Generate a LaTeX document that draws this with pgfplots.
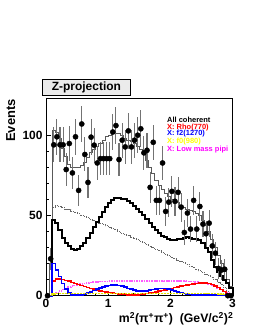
\documentclass[border=0pt]{standalone}
\usepackage{fontspec}
\setmainfont{Liberation Sans}
\usepackage{pgfplots}
\pgfplotsset{compat=1.18}
\usepackage{pgfplotstable}

\definecolor{rootred}{RGB}{255,0,0}
\definecolor{rootblue}{RGB}{0,0,255}
\definecolor{rootyellow}{RGB}{255,255,0}
\definecolor{rootmag}{RGB}{255,0,255}
\definecolor{lowmag}{RGB}{255,90,255}

\pgfplotstableread{
x tot coh bkg rho ftwo fzero low
0.00 0 0 0 0 0 0 0
0.05 20 0 0 0 0 0 0
0.10 103 47 55 9 20 1.0 0.8
0.15 102 45 56 10.5 16 1.5 2
0.20 98 41 55.5 10.5 12 1.5 3
0.25 92 36 55 10 7.5 1.5 3.8
0.30 87 33 54 9.5 4 1.5 4.6
0.35 82 31 53.5 9 1.8 1.5 5.3
0.40 80 29 52.5 8.3 0.6 1.5 5.9
0.45 80 28.6 52 7.6 0.3 1.5 6.4
0.50 80 29 51 7 0.3 1.5 6.9
0.55 81 31 50 6.3 0.5 1.5 7.3
0.60 83 33 49.5 5.7 1.0 1.5 7.6
0.65 86 36 48.5 5 1.6 1.5 7.9
0.70 89 39 47.5 4.5 2.4 1.5 8.2
0.75 91 43 47 4 3.3 1.5 8.4
0.80 93 46 46 3.5 4.2 1.5 8.6
0.85 95 49 45 3 4.9 1.5 8.8
0.90 97 52 44.5 2.6 5.5 1.5 8.9
0.95 99 55 43.5 2.2 6 1.5 9.0
1.00 100 57.5 42.5 1.9 6.3 1.5 9.1
1.05 101 59.5 42 1.6 6.5 1.5 9.2
1.10 101 60.9 41 1.3 6.5 1.5 9.2
1.15 101 61 40 1.1 6.3 1.5 9.3
1.20 100 60.5 39 0.9 5.9 1.5 9.3
1.25 98 60 38.5 0.7 5.3 1.5 9.3
1.30 97 59 37.5 0.6 4.6 1.5 9.3
1.35 96 57.5 36.5 0.5 4.0 1.5 9.3
1.40 95 55.6 36 0.5 3.4 1.5 9.3
1.45 93 54 35 0.6 3.0 1.5 9.3
1.50 91 52 34 0.8 2.8 1.5 9.3
1.55 88 50 33 1.0 2.8 1.5 9.3
1.60 84 48 32 1.3 3.0 1.5 9.3
1.65 80 45.5 31 1.6 3.4 1.5 9.3
1.70 76 43 30 2.0 3.8 1.5 9.3
1.75 72 41 29 2.4 4.2 1.5 9.3
1.80 69 39 28 2.8 4.5 1.5 9.3
1.85 66 37.5 27 3.2 4.6 1.5 9.3
1.90 64 36.5 26 3.6 4.5 1.5 9.2
1.95 62 35.5 25 4.0 4.1 1.5 9.2
2.00 60 35 24 4.5 3.6 1.5 9.2
2.05 59 35 23 5 3.0 1.5 9.2
2.10 58 35.2 22 5.4 2.4 1.5 9.2
2.15 56 35.5 21.5 5.9 1.9 1.5 9.1
2.20 55 36 20.5 6.3 1.4 1.5 9.1
2.25 54 36.5 19.5 6.7 1.0 1.5 9.0
2.30 53 36 18.5 7.1 0.7 1.5 8.9
2.35 52.5 35.5 17.5 7.4 0.6 1.5 8.7
2.40 51.5 35.5 16.5 7.6 0.6 1.5 8.5
2.45 50 35 15.5 7.8 0.6 1.5 8.2
2.50 47 33 14.5 7.9 0.6 1.5 7.9
2.55 44 30 13.5 7.8 0.6 1.5 7.5
2.60 40 27 12.5 7.5 0.6 1.4 7.0
2.65 35 22 11.5 6.9 0.6 1.4 6.4
2.70 30 18 10 6.0 0.6 1.3 5.7
2.75 25 15 8.5 5.0 0.6 1.2 4.8
2.80 20 12 7 3.8 0.6 1.1 3.8
2.85 15 10 5 2.6 0.5 0.9 2.7
2.90 10 8 2.5 1.4 0.4 0.6 1.6
2.95 6 5 0.5 0.4 0.3 0.3 0.6
3.00 0 0 0 0 0 0 0
}\curves

\pgfplotstableread{
x y e
0.025 0 0
0.075 23 6.9
0.125 94 10.9
0.175 99 11.1
0.225 94 10.9
0.275 94 10.9
0.325 78.6 10.2
0.375 94.8 10.9
0.425 76.5 10.1
0.475 99 11.1
0.525 65.6 9.5
0.575 107 11.5
0.625 88 10.6
0.675 70.6 9.8
0.725 98.8 11.1
0.775 93.8 10.9
0.825 82.7 10.4
0.875 85.4 10.5
0.925 85.4 10.5
0.975 85.4 10.5
1.025 85.4 10.5
1.075 102 11.3
1.125 106 11.4
1.175 84.8 10.5
1.225 96.9 11.0
1.275 92.7 10.8
1.325 102.7 11.3
1.375 92.7 10.8
1.425 96.9 11.0
1.475 100 11.2
1.525 104 11.4
1.575 89 10.7
1.625 90.6 10.8
1.675 67.5 9.6
1.725 95.6 11.0
1.775 59.4 9.2
1.825 59.4 9.2
1.875 82.7 10.4
1.925 52.5 8.8
1.975 58.3 9.1
2.025 65 9.5
2.075 58.8 9.2
2.125 64.4 9.5
2.175 55.2 9.0
2.225 39.4 8.0
2.275 51.5 8.7
2.325 41.5 8.2
2.375 59.4 9.2
2.425 41.5 8.2
2.475 55.6 9.0
2.525 44.6 8.3
2.575 38.6 8.0
2.625 45.2 8.4
2.675 31 7.5
2.725 26.5 7.2
2.775 17 6.5
2.825 16 6.4
2.875 16.5 6.4
2.925 0 0
2.975 0 0
}\data

\begin{document}
\begin{tikzpicture}
\path[use as bounding box] (0,0) rectangle (257bp,332bp);
\begin{axis}[
  at={(46bp,36.3bp)}, anchor=south west,
  scale only axis, width=186.5bp, height=197.4bp,
  xmin=0, xmax=3, ymin=0, ymax=123,
  clip=false,
  axis line style={line width=0.8bp},
  xtick={0,1,2,3}, ytick={0,50,100},
  minor x tick num=4, minor y tick num=4,
  tick pos=left, tick align=inside,
  major tick length=5bp, minor tick length=2.5bp,
  tick style={line width=0.6bp, black},
  ticklabel style={font=\fontsize{12}{12}\selectfont\bfseries},
  /pgf/number format/assume math mode=true,
  const plot,
]
\addplot[no marks, line width=0.8bp, black!60, densely dotted] table[x=x,y=bkg] {\curves};
\addplot[no marks, line width=0.8bp, black!65] table[x=x,y=tot] {\curves};
\addplot[no marks, line width=2bp, black] table[x=x,y=coh] {\curves};
\addplot[no marks, line width=1.5bp, lowmag, dash pattern=on 1.5bp off 1bp] table[x=x,y=low] {\curves};
\addplot[no marks, line width=1.6bp, rootred] table[x=x,y=rho] {\curves};
\addplot[no marks, line width=1.6bp, rootblue] table[x=x,y=ftwo] {\curves};
\addplot[no marks, line width=1.5bp, rootyellow!90!black, dash pattern=on 2bp off 1bp] table[x=x,y=fzero] {\curves};
\addplot[only marks, mark=*, mark size=2.6bp, black,
  error bars/.cd, y dir=both, y explicit, error mark=none,
  error bar style={line width=1.1bp, black!55}]
  table[x=x,y=y,y error=e] {\data};
\end{axis}
\node[draw=black, line width=0.6bp, fill=black!8, minimum width=87.3bp, minimum height=15.7bp, inner sep=0pt, font=\fontsize{12}{12}\selectfont\bfseries] at (86.4bp,244.9bp) {Z-projection};
\node[rotate=90, anchor=south east, inner sep=0pt, font=\fontsize{13}{13}\selectfont\bfseries] at (15.5bp,233bp) {Events};
\node[anchor=base east, inner sep=0pt, font=\fontsize{12.3}{12.3}\selectfont\bfseries] at (233.5bp,9.5bp) {m\textsuperscript{2}(π\textsuperscript{+}π\textsuperscript{+})\ \ (GeV/c\textsuperscript{2})\textsuperscript{2}};
\begin{scope}[every node/.style={anchor=base west, inner sep=0pt, font=\fontsize{7.5}{7.5}\selectfont\bfseries}]
\node[black] at (167bp,209.3bp) {All coherent};
\node[rootred] at (167bp,202.6bp) {X: Rho(770)};
\node[rootblue] at (167bp,196bp) {X: f2(1270)};
\node[rootyellow] at (167bp,188.6bp) {X: f0(980)};
\node[rootmag] at (167bp,180bp) {X: Low mass pipi};
\end{scope}
\end{tikzpicture}
\end{document}
